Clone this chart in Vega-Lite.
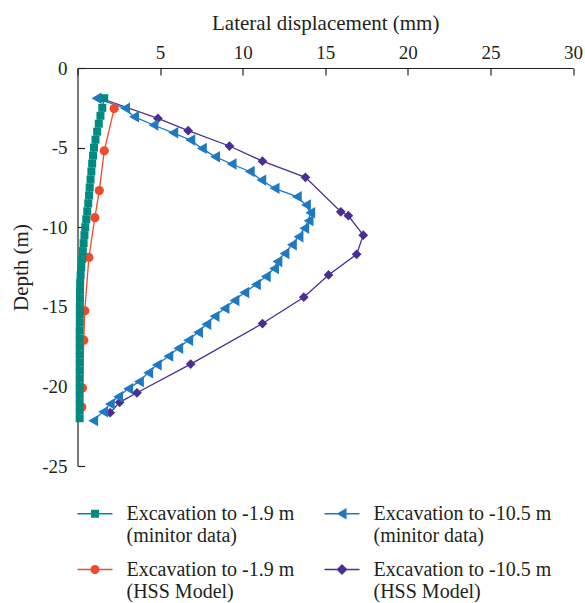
{
  "$schema": "https://vega.github.io/schema/vega-lite/v6.json",
  "autosize": "none",
  "width": 495.5,
  "height": 398,
  "padding": {"left": 77.5, "top": 68, "right": 12, "bottom": 137},
  "background": "white",
  "config": {
    "view": {"stroke": null},
    "font": "Liberation Serif",
    "style": {"guide-label": {"font": "Liberation Serif"}},
    "axis": {"labelFont": "Liberation Serif", "titleFont": "Liberation Serif", "labelColor": "#231f20", "titleColor": "#231f20", "domainColor": "#231f20", "tickColor": "#231f20", "grid": false, "titleFontWeight": "normal", "domainWidth": 1.2, "tickWidth": 1.2},
    "legend": {"labelFont": "Liberation Serif", "labelColor": "#231f20", "labelFontSize": 20, "symbolSize": 1225, "symbolStrokeWidth": 0, "symbolOpacity": 1}
  },
  "data": {"values": [
    {"s": "Excavation to -10.5 m (HSS Model)", "x": 1.4, "d": -1.9},
    {"s": "Excavation to -10.5 m (HSS Model)", "x": 4.87, "d": -3.17},
    {"s": "Excavation to -10.5 m (HSS Model)", "x": 6.7, "d": -3.94},
    {"s": "Excavation to -10.5 m (HSS Model)", "x": 9.2, "d": -4.9},
    {"s": "Excavation to -10.5 m (HSS Model)", "x": 11.2, "d": -5.85},
    {"s": "Excavation to -10.5 m (HSS Model)", "x": 13.8, "d": -6.87},
    {"s": "Excavation to -10.5 m (HSS Model)", "x": 15.94, "d": -9.03},
    {"s": "Excavation to -10.5 m (HSS Model)", "x": 16.4, "d": -9.28},
    {"s": "Excavation to -10.5 m (HSS Model)", "x": 17.3, "d": -10.5},
    {"s": "Excavation to -10.5 m (HSS Model)", "x": 16.9, "d": -11.7},
    {"s": "Excavation to -10.5 m (HSS Model)", "x": 15.2, "d": -13.0},
    {"s": "Excavation to -10.5 m (HSS Model)", "x": 13.7, "d": -14.4},
    {"s": "Excavation to -10.5 m (HSS Model)", "x": 11.2, "d": -16.05},
    {"s": "Excavation to -10.5 m (HSS Model)", "x": 6.85, "d": -18.6},
    {"s": "Excavation to -10.5 m (HSS Model)", "x": 3.6, "d": -20.4},
    {"s": "Excavation to -10.5 m (HSS Model)", "x": 2.55, "d": -21.0},
    {"s": "Excavation to -10.5 m (HSS Model)", "x": 1.98, "d": -21.65},

    {"s": "Excavation to -10.5 m (minitor data)", "x": 1.15, "d": -1.9},
    {"s": "Excavation to -10.5 m (minitor data)", "x": 2.88, "d": -2.53},
    {"s": "Excavation to -10.5 m (minitor data)", "x": 3.42, "d": -3.06},
    {"s": "Excavation to -10.5 m (minitor data)", "x": 4.6, "d": -3.58},
    {"s": "Excavation to -10.5 m (minitor data)", "x": 5.8, "d": -4.07},
    {"s": "Excavation to -10.5 m (minitor data)", "x": 6.83, "d": -4.52},
    {"s": "Excavation to -10.5 m (minitor data)", "x": 7.53, "d": -5.05},
    {"s": "Excavation to -10.5 m (minitor data)", "x": 8.33, "d": -5.57},
    {"s": "Excavation to -10.5 m (minitor data)", "x": 9.33, "d": -6.03},
    {"s": "Excavation to -10.5 m (minitor data)", "x": 10.43, "d": -6.5},
    {"s": "Excavation to -10.5 m (minitor data)", "x": 11.13, "d": -7.04},
    {"s": "Excavation to -10.5 m (minitor data)", "x": 11.93, "d": -7.56},
    {"s": "Excavation to -10.5 m (minitor data)", "x": 13.28, "d": -8.08},
    {"s": "Excavation to -10.5 m (minitor data)", "x": 13.83, "d": -8.6},
    {"s": "Excavation to -10.5 m (minitor data)", "x": 14.09, "d": -9.09},
    {"s": "Excavation to -10.5 m (minitor data)", "x": 13.99, "d": -9.59},
    {"s": "Excavation to -10.5 m (minitor data)", "x": 13.73, "d": -10.07},
    {"s": "Excavation to -10.5 m (minitor data)", "x": 13.38, "d": -10.6},
    {"s": "Excavation to -10.5 m (minitor data)", "x": 12.98, "d": -11.1},
    {"s": "Excavation to -10.5 m (minitor data)", "x": 12.53, "d": -11.65},
    {"s": "Excavation to -10.5 m (minitor data)", "x": 12.1, "d": -12.15},
    {"s": "Excavation to -10.5 m (minitor data)", "x": 11.9, "d": -12.6},
    {"s": "Excavation to -10.5 m (minitor data)", "x": 11.4, "d": -13.1},
    {"s": "Excavation to -10.5 m (minitor data)", "x": 10.8, "d": -13.6},
    {"s": "Excavation to -10.5 m (minitor data)", "x": 10.1, "d": -14.1},
    {"s": "Excavation to -10.5 m (minitor data)", "x": 9.5, "d": -14.6},
    {"s": "Excavation to -10.5 m (minitor data)", "x": 8.9, "d": -15.1},
    {"s": "Excavation to -10.5 m (minitor data)", "x": 8.3, "d": -15.6},
    {"s": "Excavation to -10.5 m (minitor data)", "x": 7.8, "d": -16.1},
    {"s": "Excavation to -10.5 m (minitor data)", "x": 7.3, "d": -16.6},
    {"s": "Excavation to -10.5 m (minitor data)", "x": 6.7, "d": -17.1},
    {"s": "Excavation to -10.5 m (minitor data)", "x": 6.1, "d": -17.6},
    {"s": "Excavation to -10.5 m (minitor data)", "x": 5.5, "d": -18.1},
    {"s": "Excavation to -10.5 m (minitor data)", "x": 4.8, "d": -18.65},
    {"s": "Excavation to -10.5 m (minitor data)", "x": 4.28, "d": -19.14},
    {"s": "Excavation to -10.5 m (minitor data)", "x": 3.72, "d": -19.7},
    {"s": "Excavation to -10.5 m (minitor data)", "x": 3.07, "d": -20.15},
    {"s": "Excavation to -10.5 m (minitor data)", "x": 2.46, "d": -20.65},
    {"s": "Excavation to -10.5 m (minitor data)", "x": 1.96, "d": -21.1},
    {"s": "Excavation to -10.5 m (minitor data)", "x": 1.55, "d": -21.6},
    {"s": "Excavation to -10.5 m (minitor data)", "x": 0.95, "d": -22.15},

    {"s": "Excavation to -1.9 m (HSS Model)", "x": 2.22, "d": -2.55},
    {"s": "Excavation to -1.9 m (HSS Model)", "x": 1.62, "d": -5.2},
    {"s": "Excavation to -1.9 m (HSS Model)", "x": 1.32, "d": -7.7},
    {"s": "Excavation to -1.9 m (HSS Model)", "x": 1.05, "d": -9.4},
    {"s": "Excavation to -1.9 m (HSS Model)", "x": 0.69, "d": -11.9},
    {"s": "Excavation to -1.9 m (HSS Model)", "x": 0.44, "d": -15.25},
    {"s": "Excavation to -1.9 m (HSS Model)", "x": 0.38, "d": -17.1},
    {"s": "Excavation to -1.9 m (HSS Model)", "x": 0.3, "d": -20.1},
    {"s": "Excavation to -1.9 m (HSS Model)", "x": 0.26, "d": -21.3},

    {"s": "Excavation to -1.9 m (minitor data)", "x": 1.62, "d": -1.9},
    {"s": "Excavation to -1.9 m (minitor data)", "x": 1.5, "d": -2.5},
    {"s": "Excavation to -1.9 m (minitor data)", "x": 1.39, "d": -3.0},
    {"s": "Excavation to -1.9 m (minitor data)", "x": 1.29, "d": -3.5},
    {"s": "Excavation to -1.9 m (minitor data)", "x": 1.19, "d": -4.0},
    {"s": "Excavation to -1.9 m (minitor data)", "x": 1.09, "d": -4.5},
    {"s": "Excavation to -1.9 m (minitor data)", "x": 1.0, "d": -5.0},
    {"s": "Excavation to -1.9 m (minitor data)", "x": 0.94, "d": -5.5},
    {"s": "Excavation to -1.9 m (minitor data)", "x": 0.89, "d": -6.0},
    {"s": "Excavation to -1.9 m (minitor data)", "x": 0.84, "d": -6.5},
    {"s": "Excavation to -1.9 m (minitor data)", "x": 0.79, "d": -7.0},
    {"s": "Excavation to -1.9 m (minitor data)", "x": 0.74, "d": -7.5},
    {"s": "Excavation to -1.9 m (minitor data)", "x": 0.7, "d": -8.0},
    {"s": "Excavation to -1.9 m (minitor data)", "x": 0.65, "d": -8.5},
    {"s": "Excavation to -1.9 m (minitor data)", "x": 0.59, "d": -9.0},
    {"s": "Excavation to -1.9 m (minitor data)", "x": 0.53, "d": -9.5},
    {"s": "Excavation to -1.9 m (minitor data)", "x": 0.47, "d": -10.0},
    {"s": "Excavation to -1.9 m (minitor data)", "x": 0.42, "d": -10.5},
    {"s": "Excavation to -1.9 m (minitor data)", "x": 0.37, "d": -11.0},
    {"s": "Excavation to -1.9 m (minitor data)", "x": 0.32, "d": -11.5},
    {"s": "Excavation to -1.9 m (minitor data)", "x": 0.28, "d": -12.0},
    {"s": "Excavation to -1.9 m (minitor data)", "x": 0.23, "d": -12.5},
    {"s": "Excavation to -1.9 m (minitor data)", "x": 0.19, "d": -13.0},
    {"s": "Excavation to -1.9 m (minitor data)", "x": 0.16, "d": -13.5},
    {"s": "Excavation to -1.9 m (minitor data)", "x": 0.15, "d": -14.0},
    {"s": "Excavation to -1.9 m (minitor data)", "x": 0.15, "d": -14.5},
    {"s": "Excavation to -1.9 m (minitor data)", "x": 0.14, "d": -15.0},
    {"s": "Excavation to -1.9 m (minitor data)", "x": 0.14, "d": -15.5},
    {"s": "Excavation to -1.9 m (minitor data)", "x": 0.14, "d": -16.0},
    {"s": "Excavation to -1.9 m (minitor data)", "x": 0.13, "d": -16.5},
    {"s": "Excavation to -1.9 m (minitor data)", "x": 0.13, "d": -17.0},
    {"s": "Excavation to -1.9 m (minitor data)", "x": 0.13, "d": -17.5},
    {"s": "Excavation to -1.9 m (minitor data)", "x": 0.13, "d": -18.0},
    {"s": "Excavation to -1.9 m (minitor data)", "x": 0.13, "d": -18.5},
    {"s": "Excavation to -1.9 m (minitor data)", "x": 0.13, "d": -19.0},
    {"s": "Excavation to -1.9 m (minitor data)", "x": 0.13, "d": -19.5},
    {"s": "Excavation to -1.9 m (minitor data)", "x": 0.13, "d": -20.0},
    {"s": "Excavation to -1.9 m (minitor data)", "x": 0.13, "d": -20.5},
    {"s": "Excavation to -1.9 m (minitor data)", "x": 0.13, "d": -21.0},
    {"s": "Excavation to -1.9 m (minitor data)", "x": 0.13, "d": -21.5},
    {"s": "Excavation to -1.9 m (minitor data)", "x": 0.13, "d": -22.0}
  ]},
  "encoding": {
    "x": {"field": "x", "type": "quantitative", "scale": {"domain": [0, 30], "nice": false, "zero": false},
      "axis": {"orient": "top", "values": [0, 5, 10, 15, 20, 25, 30], "title": "Lateral displacement (mm)", "titleFontSize": 21, "titlePadding": 10, "labelFontSize": 19, "tickSize": -7, "labelPadding": 13, "labelExpr": "datum.value == 0 ? '' : datum.label", "labelFlush": false}},
    "y": {"field": "d", "type": "quantitative", "scale": {"domain": [-25, 0], "nice": false, "zero": false},
      "axis": {"values": [-25, -20, -15, -10, -5, 0], "title": "Depth (m)", "titleFontSize": 21, "titlePadding": 10, "labelFontSize": 19, "tickSize": -7, "labelPadding": 17.5, "labelExpr": "datum.value == 0 ? '0' : '-' + abs(datum.value)", "labelFlush": false}},
    "color": {"field": "s", "type": "nominal", "title": null,
      "scale": {"domain": ["Excavation to -1.9 m (minitor data)", "Excavation to -10.5 m (minitor data)", "Excavation to -1.9 m (HSS Model)", "Excavation to -10.5 m (HSS Model)"],
        "range": ["#008a80", "#1e78c2", "#ef4b2a", "#4b2e92"]},
      "legend": {
        "orient": "bottom", "columns": 2, "direction": "horizontal",
        "labelFont": "Liberation Serif", "labelFontSize": 20, "labelLineHeight": 25.5, "labelOffset": 14, "labelLimit": 400,
        "symbolSize": 1225, "symbolStrokeWidth": 0, "symbolOpacity": 1, "columnPadding": 30, "rowPadding": 6, "offset": 30,
        "labelExpr": "[slice(datum.label, 0, indexof(datum.label, ' (')), slice(datum.label, indexof(datum.label, ' (') + 1)]"
      }}
  },
  "layer": [
    {
      "mark": {"type": "line", "strokeWidth": 1.3},
      "encoding": {"order": {"field": "d", "type": "quantitative", "sort": "descending"}}
    },
    {
      "transform": [{"filter": {"field": "s", "equal": "Excavation to -10.5 m (HSS Model)"}}],
      "mark": {"type": "point", "filled": true, "opacity": 1, "strokeWidth": 0, "shape": "diamond", "size": 95}
    },
    {
      "transform": [{"filter": {"field": "s", "equal": "Excavation to -10.5 m (minitor data)"}}],
      "mark": {"type": "point", "filled": true, "opacity": 1, "strokeWidth": 0, "shape": "triangle-left", "size": 130}
    },
    {
      "transform": [{"filter": {"field": "s", "equal": "Excavation to -1.9 m (HSS Model)"}}],
      "mark": {"type": "point", "filled": true, "opacity": 1, "strokeWidth": 0, "shape": "circle", "size": 85}
    },
    {
      "transform": [{"filter": {"field": "s", "equal": "Excavation to -1.9 m (minitor data)"}}],
      "mark": {"type": "point", "filled": true, "opacity": 1, "strokeWidth": 0, "shape": "square", "size": 64}
    },
    {
      "transform": [{"filter": "false"}],
      "mark": {"type": "point", "filled": true, "opacity": 1, "strokeWidth": 0},
      "encoding": {
        "shape": {"field": "s", "type": "nominal", "title": null,
          "scale": {"domain": ["Excavation to -1.9 m (minitor data)", "Excavation to -10.5 m (minitor data)", "Excavation to -1.9 m (HSS Model)", "Excavation to -10.5 m (HSS Model)"],
            "range": [
              "M-1,-0.04H1V0.04H-1Z M-0.229,-0.229H0.229V0.229H-0.229Z",
              "M-1,-0.04H1V0.04H-1Z M-0.3,0L0.26,-0.33L0.26,0.33Z",
              "M-1,-0.04H1V0.04H-1Z M-0.257,0A0.257,0.257 0 1,1 0.257,0A0.257,0.257 0 1,1 -0.257,0Z",
              "M-1,-0.04H1V0.04H-1Z M0,-0.314L0.314,0L0,0.314L-0.314,0Z"
            ]},
          "legend": {
            "orient": "bottom", "columns": 2, "direction": "horizontal",
            "labelFont": "Liberation Serif", "labelFontSize": 20, "labelLineHeight": 25.5, "labelOffset": 14, "labelLimit": 400,
            "symbolSize": 1225, "symbolStrokeWidth": 0, "symbolOpacity": 1, "columnPadding": 30, "rowPadding": 6, "offset": 30,
            "labelExpr": "[slice(datum.label, 0, indexof(datum.label, ' (')), slice(datum.label, indexof(datum.label, ' (') + 1)]"
          }}
      }
    }
  ]
}
